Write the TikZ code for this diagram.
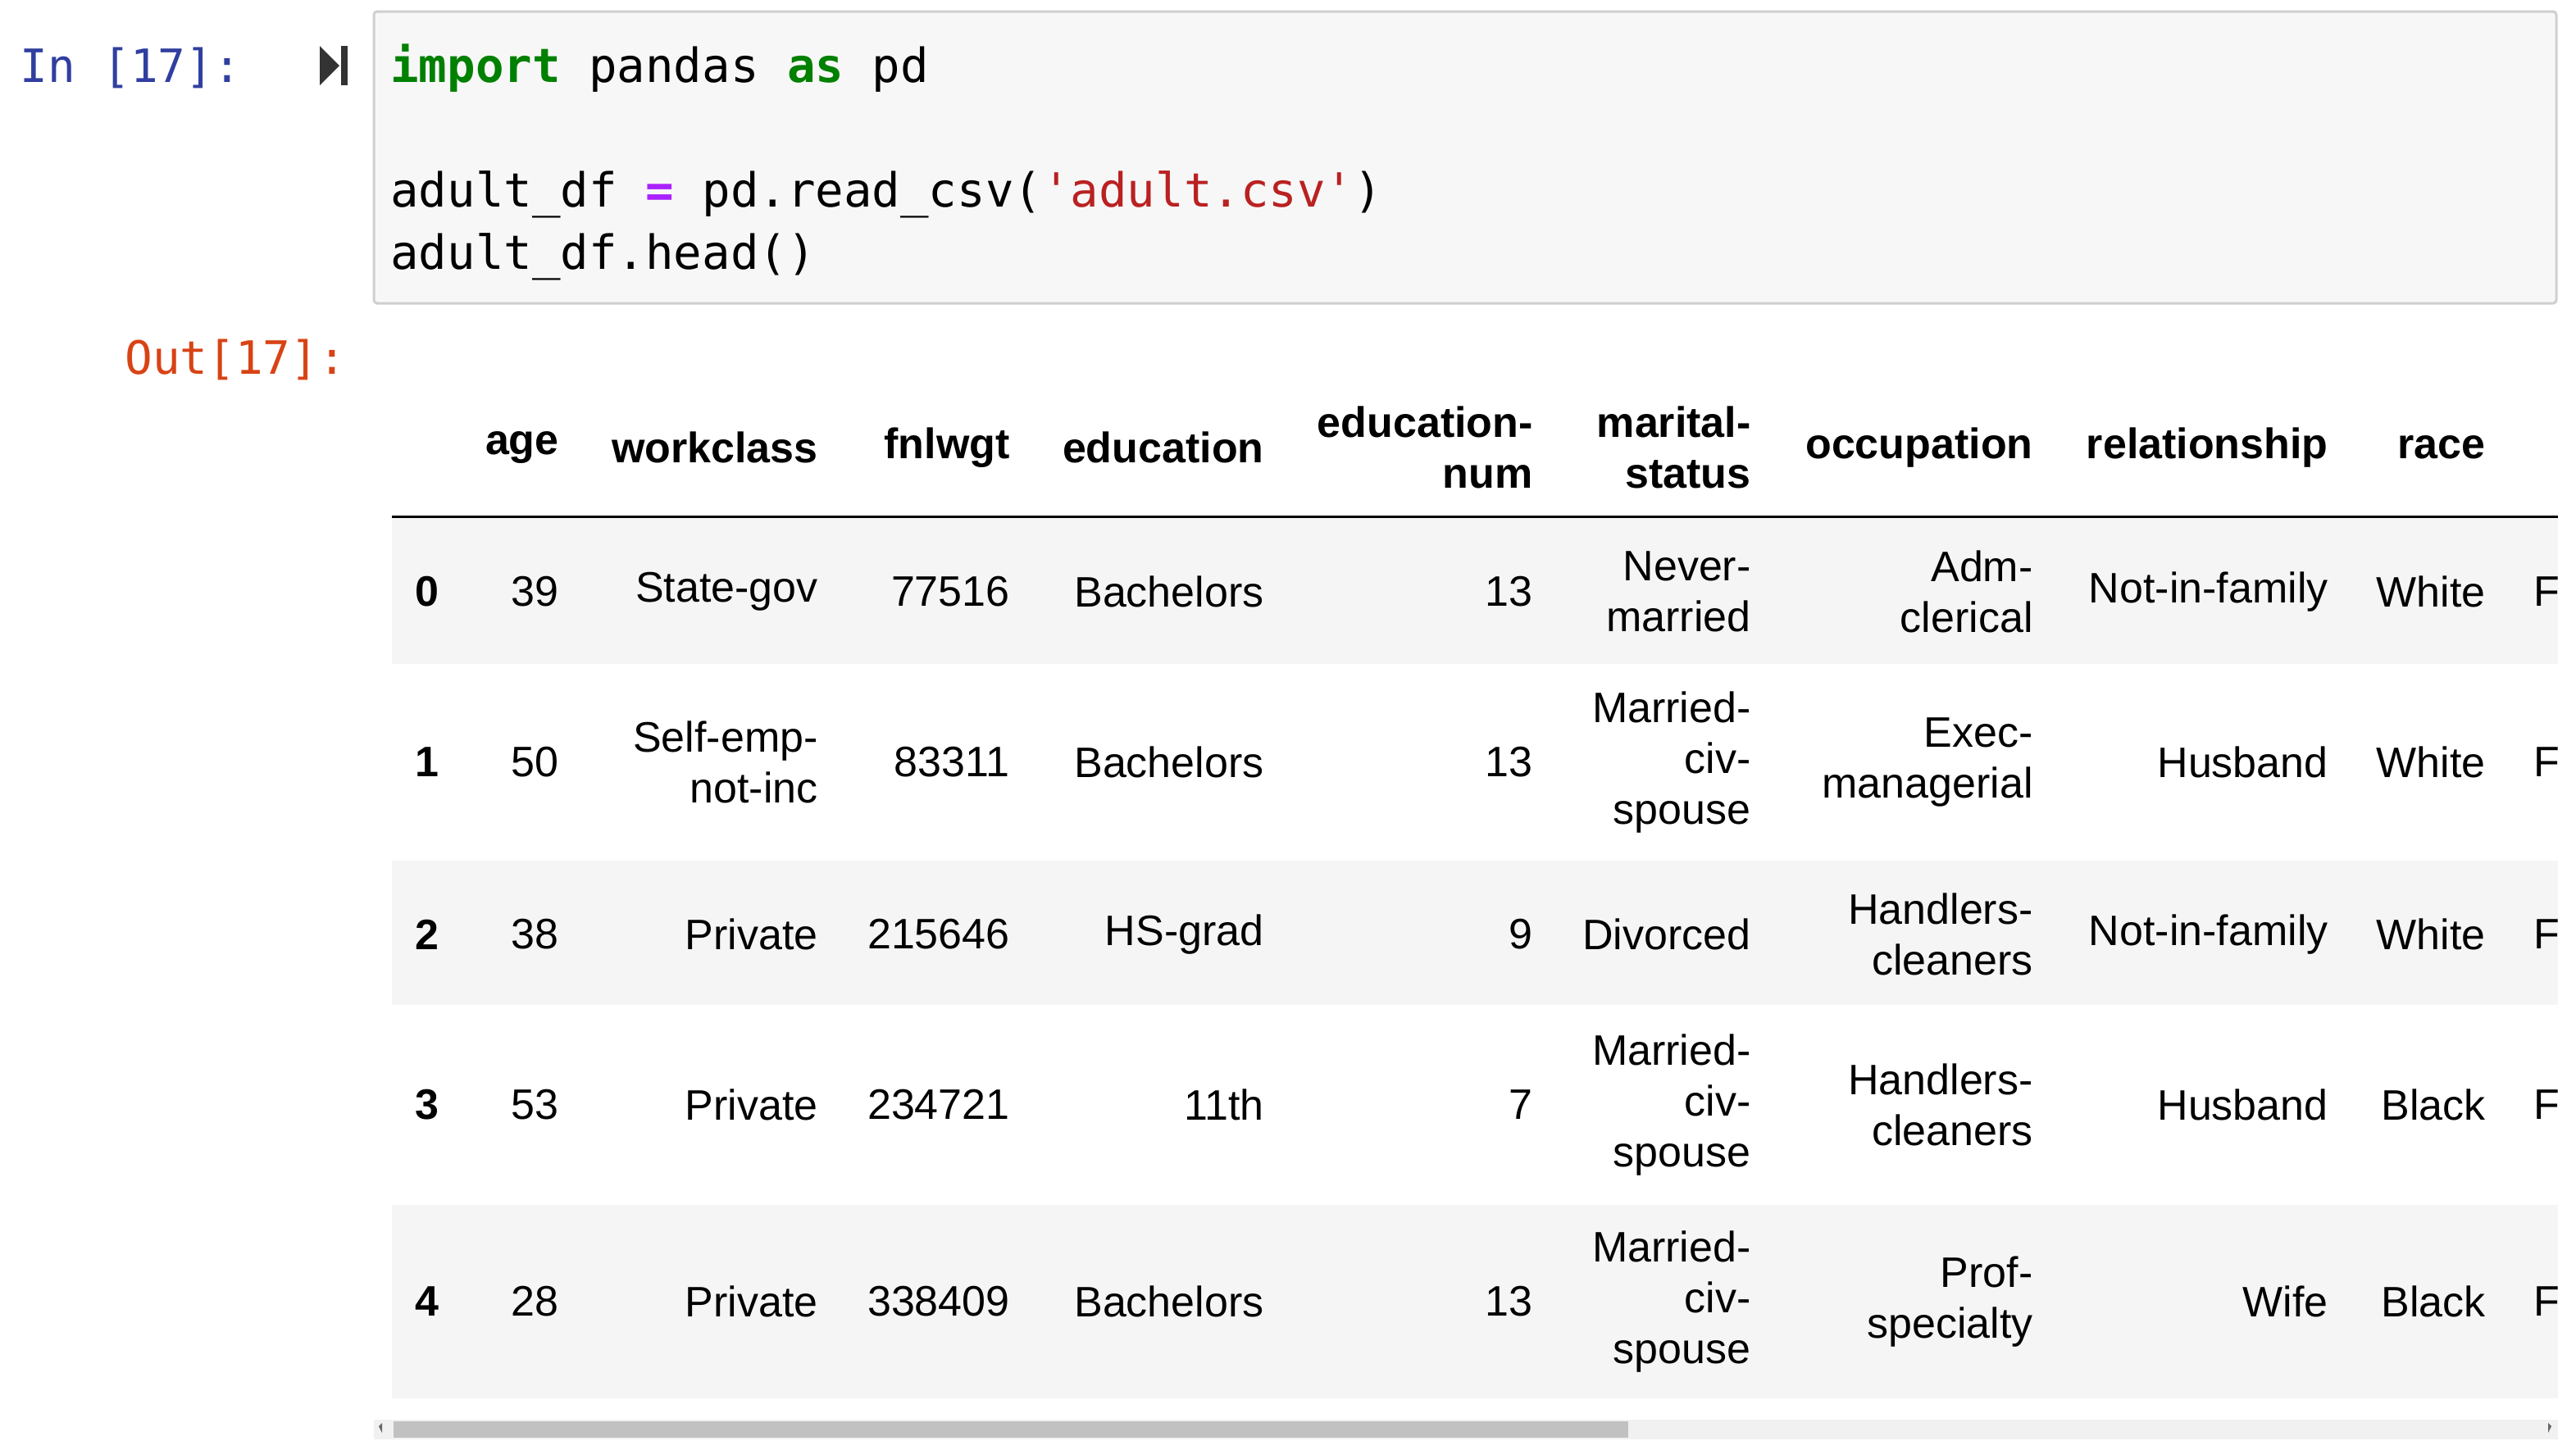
\documentclass[tikz,border=0pt]{standalone}
\usepackage{fontspec}
\setmainfont{Liberation Sans}
\setmonofont{DejaVu Sans Mono}
\usetikzlibrary{positioning}

\definecolor{promptin}{HTML}{303F9F}
\definecolor{promptout}{HTML}{D84315}
\definecolor{kwgreen}{HTML}{008000}
\definecolor{oppurple}{HTML}{AA22FF}
\definecolor{strred}{HTML}{BA2121}
\definecolor{cellbg}{HTML}{F7F7F7}
\definecolor{cellborder}{HTML}{CFCFCF}
\definecolor{rowshade}{HTML}{F5F5F5}
\definecolor{scrolltrack}{HTML}{F1F1F1}
\definecolor{scrollthumb}{HTML}{C1C1C1}

\begin{document}
\begin{tikzpicture}[x=1pt,y=-1pt]
    \tikzstyle{prompt} = [anchor=base west, inner sep=0, font=\fontsize{28}{31}\selectfont\ttfamily]
    \tikzstyle{code} = [anchor=base west, inner sep=0, font=\fontsize{28.7}{38}\selectfont\ttfamily]
    \tikzstyle{cell} = [anchor=east, inner sep=0, align=right, font=\fontsize{26}{31}\selectfont]
    \tikzstyle{head} = [cell, font=\fontsize{26}{31}\selectfont\bfseries]
    \tikzstyle{idx} = [anchor=west, inner sep=0, font=\fontsize{26}{31}\selectfont\bfseries]

    \useasboundingbox (0,0) rectangle (1571,884);

    % input cell
    \node (inprompt) [prompt, text=promptin] at (12,50) {In [17]:};
    \fill [black!80] (195,28) -- (207,40) -- (195,52) -- cycle;
    \fill [black!80] (208,28) rectangle (212,52);
    \draw [cellborder, fill=cellbg, line width=1.5pt, rounded corners=2pt] (228,7) rectangle (1559,185);
    \node (line1) [code] at (238,50) {\textcolor{kwgreen}{\bfseries import} pandas \textcolor{kwgreen}{\bfseries as} pd};
    \node (line2) [code] at (238,126) {adult\_df \textcolor{oppurple}{\bfseries =} pd.read\_csv(\textcolor{strred}{'adult.csv'})};
    \node (line3) [code] at (238,164) {adult\_df.head()};

    % output cell
    \node (outprompt) [prompt, text=promptout] at (76,228) {Out[17]:};

    % row shading
    \fill [rowshade] (239,316) rectangle (1560,405);
    \fill [rowshade] (239,525) rectangle (1560,613);
    \fill [rowshade] (239,735) rectangle (1560,853);
    \draw [black, line width=1.5pt] (239,315) -- (1560,315);

    \begin{scope}
    \clip (239,230) rectangle (1560,860);
    % header
    \foreach \x/\t [count=\i] in {341/age, 499/workclass, 616/fnlwgt, 771/education,
        935/{education-\\num}, 1068/{marital-\\status}, 1240/occupation,
        1420/relationship, 1516/race}
        \node (h\i) [head] at (\x,273) {\t};

    % rows
    \foreach \y/\r [count=\j from 0] in {
        361/{39,State-gov,77516,Bachelors,13,Never-\\married,Adm-\\clerical,Not-in-family,White},
        465/{50,Self-emp-\\not-inc,83311,Bachelors,13,Married-\\civ-\\spouse,Exec-\\managerial,Husband,White},
        570/{38,Private,215646,HS-grad,9,Divorced,Handlers-\\cleaners,Not-in-family,White},
        674/{53,Private,234721,11th,7,Married-\\civ-\\spouse,Handlers-\\cleaners,Husband,Black},
        794/{28,Private,338409,Bachelors,13,Married-\\civ-\\spouse,Prof-\\specialty,Wife,Black}}
    {
        \node (r\j idx) [idx] at (253,\y) {\j};
        \foreach \x [count=\i] in {341,499,616,771,935,1068,1240,1420,1516} {
            \pgfmathsetmacro{\dummy}{0}
        }
        \foreach \t [count=\i] in \r {
            \pgfmathparse{{341,499,616,771,935,1068,1240,1420,1516}[\i-1]}
            \node (r\j c\i) [cell] at (\pgfmathresult,\y) {\t};
        }
        \node (r\j more) [idx, font=\fontsize{26}{31}\selectfont] at (1545,\y) {F};
    }
    \end{scope}

    % scrollbar
    \fill [scrolltrack] (228,866) rectangle (1560,878);
    \fill [scrollthumb] (240,867) rectangle (993,877);
    \fill [black!60] (231,870) -- (233,868) -- (233,874) -- cycle;
    \fill [black!60] (1556,870) -- (1554,868) -- (1554,874) -- cycle;
\end{tikzpicture}
\end{document}
